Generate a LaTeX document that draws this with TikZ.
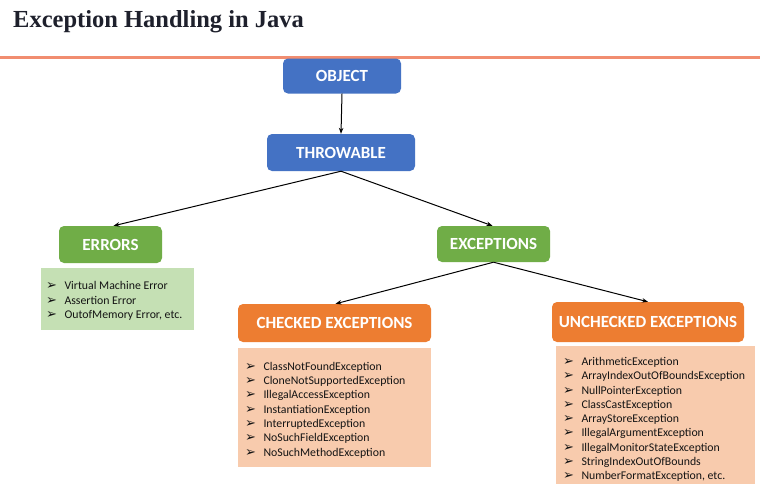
\documentclass[tikz,border=0pt]{standalone}
\usepackage{fontspec}
\setmainfont{Carlito}
\newfontfamily\titlefont{Liberation Serif}
\newfontfamily\symfont{DejaVu Sans}
\usetikzlibrary{arrows.meta}
\definecolor{hdrblue}{RGB}{68,114,196}
\definecolor{hdrgreen}{RGB}{112,173,71}
\definecolor{hdrorange}{RGB}{237,125,49}
\definecolor{listgreen}{RGB}{197,224,180}
\definecolor{listorange}{RGB}{248,203,173}
\definecolor{ruleorange}{RGB}{241,141,112}
\definecolor{titlecol}{RGB}{30,32,44}
\definecolor{itemcol}{RGB}{20,20,20}
\newcommand{\itm}[1]{\makebox[18.5pt][l]{\symfont\fontsize{13}{10}\selectfont ➢}#1}
\begin{document}
\begin{tikzpicture}[x=1pt,y=-1pt,
  hdr/.style={rounded corners=5pt, text=white, font=\fontsize{17}{19}\selectfont\bfseries, inner sep=0pt, align=center},
  lst/.style={align=left, text=itemcol, font=\fontsize{11.8}{14.3}\selectfont, inner xsep=7pt, inner ysep=0pt, anchor=west},
  conn/.style={draw=black, line width=1pt, -{Stealth[length=6pt,width=4.5pt]}}]
\path[use as bounding box, fill=white] (0,0) rectangle (760,491);
\node[anchor=base west, inner sep=0pt, text=titlecol, font=\titlefont\fontsize{24.5}{28}\selectfont\bfseries] (title) at (13,27) {Exception Handling in Java};
\coordinate (rl) at (0,57);
\coordinate (rr) at (760,57);
\draw[ruleorange, line width=3pt] (rl) -- (rr);

\node[hdr, fill=hdrblue, minimum width=118pt, minimum height=35pt] (object) at (342,76) {OBJECT};
\node[hdr, fill=hdrblue, minimum width=148pt, minimum height=37pt] (throwable) at (341,152.5) {THROWABLE};
\node[hdr, fill=hdrgreen, minimum width=103pt, minimum height=37pt] (errors) at (110.5,244.5) {ERRORS};
\node[hdr, fill=hdrgreen, minimum width=113pt, minimum height=36pt] (exceptions) at (493.5,244) {EXCEPTIONS};
\node[hdr, fill=hdrorange, minimum width=193pt, minimum height=38pt] (checked) at (334.5,323) {CHECKED EXCEPTIONS};
\node[hdr, fill=hdrorange, minimum width=192pt, minimum height=40pt] (unchecked) at (648,322) {UNCHECKED EXCEPTIONS};

\node[fill=listgreen, minimum width=153pt, minimum height=62pt, inner sep=0pt] (errbox) at (117.5,299) {};
\node[lst] (errlist) at ([xshift=-2pt,yshift=-2pt]errbox.west) {\itm{Virtual Machine Error}\\\itm{Assertion Error}\\\itm{OutofMemory Error, etc.}};

\node[fill=listorange, minimum width=193pt, minimum height=119pt, inner sep=0pt] (chkbox) at (334.5,407.5) {};
\node[lst] (chklist) at ([yshift=-2.5pt]chkbox.west) {\itm{ClassNotFoundException}\\\itm{CloneNotSupportedException}\\\itm{IllegalAccessException}\\\itm{InstantiationException}\\\itm{InterruptedException}\\\itm{NoSuchFieldException}\\\itm{NoSuchMethodException}};

\node[fill=listorange, minimum width=199pt, minimum height=138pt, inner sep=0pt] (unbox) at (655.5,415) {};
\node[lst] (unlist) at ([yshift=-4.5pt]unbox.west) {\itm{ArithmeticException}\\\itm{ArrayIndexOutOfBoundsException}\\\itm{NullPointerException}\\\itm{ClassCastException}\\\itm{ArrayStoreException}\\\itm{IllegalArgumentException}\\\itm{IllegalMonitorStateException}\\\itm{StringIndexOutOfBounds}\\\itm{NumberFormatException, etc.}};

\draw[conn] (object.south) -- (throwable.north);
\draw[conn] (throwable.south) -- ([xshift=3pt]errors.north);
\draw[conn] (throwable.south) -- ([xshift=-1pt]exceptions.north);
\draw[conn] (exceptions.south) -- ([xshift=1pt]checked.north);
\draw[conn] (exceptions.south) -- ([xshift=0pt]unchecked.north);
\end{tikzpicture}
\end{document}
